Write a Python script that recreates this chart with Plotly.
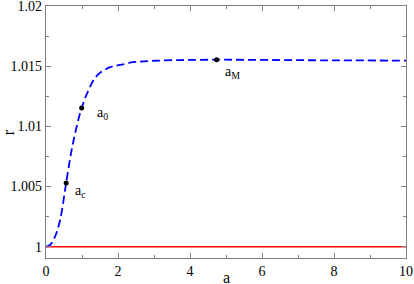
import plotly.graph_objects as go

# curve r(a)
a_vals = [0.0, 0.11, 0.25, 0.39, 0.56, 0.71, 0.85, 0.99, 1.18, 1.41, 1.78, 2.06, 2.42, 2.61, 3.0, 3.53, 4.0, 4.74, 5.5, 6.5, 7.5, 8.5, 10.0]
r_vals = [1.0, 1.00014, 1.00083, 1.0022, 1.0053, 1.0080, 1.00995, 1.01152, 1.0130, 1.01420, 1.01492, 1.01510, 1.01534, 1.01538, 1.01545, 1.01550, 1.01552, 1.01554, 1.01553, 1.01551, 1.01549, 1.01548, 1.01546]
ref_a = [0.0, 10.0]
ref_r = [1.0, 1.0]
pt_a = [0.56, 0.99, 4.74]
pt_r = [1.0053, 1.01152, 1.01554]
pt_labels = ["a<sub>c</sub>", "a<sub>0</sub>", "a<sub>M</sub>"]
lab_a = [0.95, 1.58, 5.17]
lab_r = [1.0046, 1.0111, 1.0145]

FAM = "Liberation Serif"
font = dict(family=FAM, size=14, color="black")

fig = go.Figure()
fig.add_trace(go.Scatter(x=ref_a, y=ref_r, mode="lines", line=dict(color="#ff0000", width=1.6)))
fig.add_trace(go.Scatter(x=a_vals, y=r_vals, mode="lines", line=dict(color="#0000ff", width=1.8, dash="8px,4px", shape="spline")))
fig.add_trace(go.Scatter(x=pt_a, y=pt_r, mode="markers", marker=dict(color="black", size=5)))
for x, y, t in zip(lab_a, lab_r, pt_labels):
    fig.add_annotation(x=x, y=y, text=t, showarrow=False, font=dict(family=FAM, size=14, color="black"))

# axis titles as annotations for exact placement
fig.add_annotation(xref="paper", yref="paper", x=0.5, y=-0.077, yanchor="middle", text="a", borderpad=0,
                   showarrow=False, font=dict(family=FAM, size=16, color="black"))
fig.add_annotation(xref="paper", yref="paper", x=-0.105, y=0.5, xanchor="center", text="r", textangle=-90,
                   showarrow=False, font=dict(family=FAM, size=16, color="black"))

axis_common = dict(showgrid=False, zeroline=False, showline=True, linecolor="#808080", linewidth=1.2,
                   mirror="ticks", ticks="inside", ticklen=5, tickcolor="#808080", tickwidth=1,
                   tickfont=font, automargin=False, ticklabeloverflow="allow")
fig.update_xaxes(range=[0, 10.0001], tick0=0, dtick=2,
                 minor=dict(dtick=1, ticks="inside", ticklen=3, tickcolor="#808080"), **axis_common)
fig.update_yaxes(range=[0.99906, 1.020001], tick0=1, dtick=0.005,
                 minor=dict(dtick=0.0025, ticks="inside", ticklen=3, tickcolor="#808080"), **axis_common)
fig.update_layout(width=414, height=284, margin=dict(l=46, r=8, t=6, b=26, autoexpand=False),
                  font=dict(family=FAM),
                  plot_bgcolor="white", paper_bgcolor="white", showlegend=False)
fig.write_html("out.html", config={"displayModeBar": False, "staticPlot": True},
               post_script="document.body.style.margin='0';document.body.style.padding='0';"
                           "document.documentElement.style.overflow='hidden';")
